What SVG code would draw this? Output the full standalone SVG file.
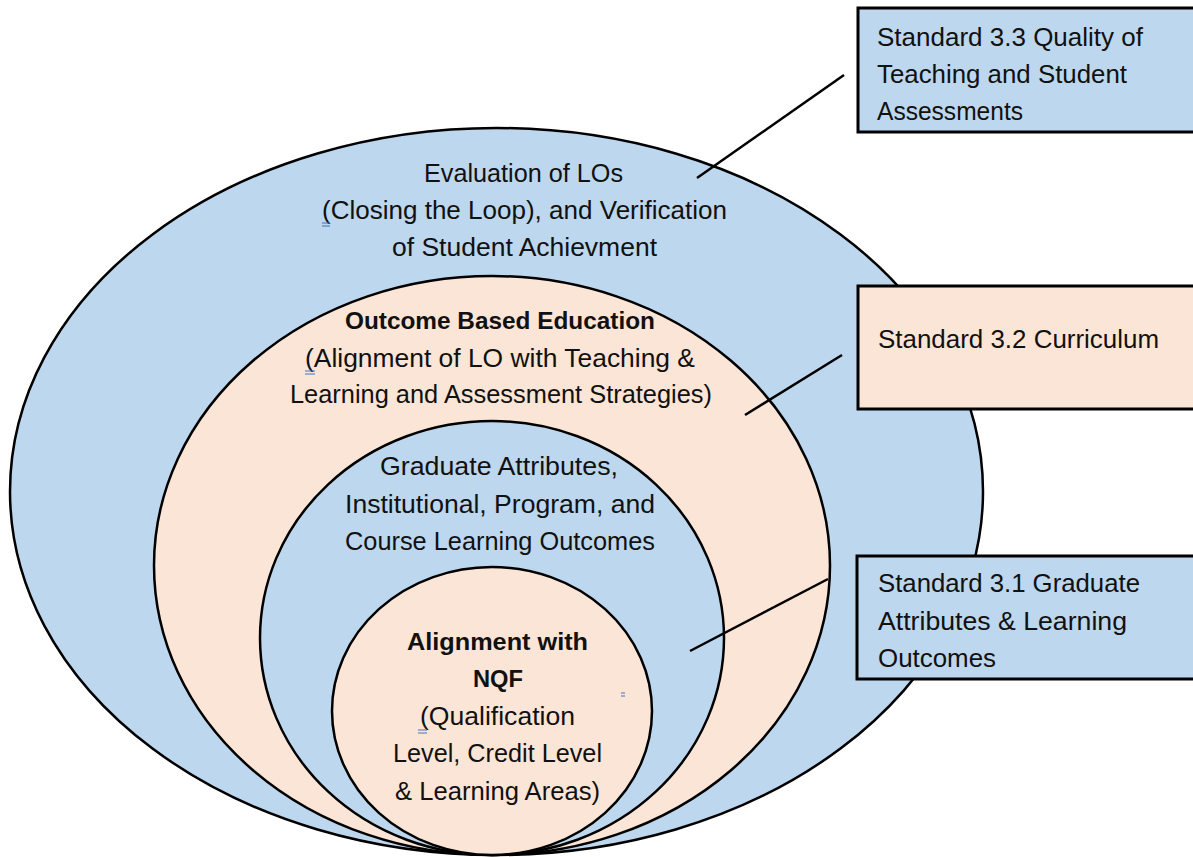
<svg xmlns="http://www.w3.org/2000/svg" width="1193" height="857" viewBox="0 0 1193 857">
<style>
.blue{fill:#BDD7EE;stroke:#000;stroke-width:2.5}
.peach{fill:#FBE5D6;stroke:#000;stroke-width:2.5}
.box{stroke:#000;stroke-width:3}
.conn{stroke:#000;stroke-width:2.5;fill:none}
text{font-family:"Liberation Sans",Arial,sans-serif;font-size:25px;fill:#111}
.c{text-anchor:middle}
.b{font-weight:bold;font-size:24.5px}
.mk{stroke:#4472C4;stroke-width:1}
</style>
<rect width="1193" height="857" fill="#fff"/>
<g id="outer">
<ellipse class="blue" cx="496.5" cy="491.5" rx="486.5" ry="363.5"/>
<text class="c" x="523.5" y="182" textLength="199" lengthAdjust="spacingAndGlyphs">Evaluation of LOs</text>
<text class="c" x="524.5" y="219" textLength="405" lengthAdjust="spacingAndGlyphs">(Closing the Loop), and Verification</text>
<text class="c" x="524.5" y="256" textLength="265" lengthAdjust="spacingAndGlyphs">of Student Achievment</text>
</g>
<g id="obe">
<ellipse class="peach" cx="492" cy="565.5" rx="338" ry="289.5"/>
<text class="c b" x="500" y="329" textLength="310" lengthAdjust="spacingAndGlyphs">Outcome Based Education</text>
<text class="c" x="500" y="367" textLength="390" lengthAdjust="spacingAndGlyphs">(Alignment of LO with Teaching &amp;</text>
<text class="c" x="501" y="403" textLength="422" lengthAdjust="spacingAndGlyphs">Learning and Assessment Strategies)</text>
</g>
<g id="ga">
<ellipse class="blue" cx="492" cy="638" rx="232" ry="217"/>
<text class="c" x="499" y="475" textLength="238" lengthAdjust="spacingAndGlyphs">Graduate Attributes,</text>
<text class="c" x="500" y="513" textLength="310" lengthAdjust="spacingAndGlyphs">Institutional, Program, and</text>
<text class="c" x="500" y="550" textLength="310" lengthAdjust="spacingAndGlyphs">Course Learning Outcomes</text>
</g>
<g id="nqf">
<ellipse class="peach" cx="492" cy="711" rx="160" ry="144"/>
<text class="c b" x="497.5" y="650" textLength="181" lengthAdjust="spacingAndGlyphs">Alignment with</text>
<text class="c b" x="498" y="687" textLength="50" lengthAdjust="spacingAndGlyphs">NQF</text>
<text class="c" x="497.5" y="725" textLength="155" lengthAdjust="spacingAndGlyphs">(Qualification</text>
<text class="c" x="497.5" y="762" textLength="209" lengthAdjust="spacingAndGlyphs">Level, Credit Level</text>
<text class="c" x="497.5" y="800" textLength="205" lengthAdjust="spacingAndGlyphs">&amp; Learning Areas)</text>
</g>
<g id="markers">
<path class="mk" d="M322 223h8M322 226h8M305 371h10M305 374h10M418 730h9M418 733h9M621 693h4M621 696h4"/>
</g>
<g id="connectors">
<line class="conn" x1="697" y1="178" x2="844" y2="75"/>
<line class="conn" x1="745" y1="415" x2="842" y2="355"/>
<line class="conn" x1="690" y1="651" x2="828" y2="579"/>
</g>
<g id="std33">
<rect class="box" x="858" y="8" width="345" height="124" fill="#BDD7EE"/>
<text x="877" y="46" textLength="266" lengthAdjust="spacingAndGlyphs">Standard 3.3 Quality of</text>
<text x="877" y="83" textLength="250" lengthAdjust="spacingAndGlyphs">Teaching and Student</text>
<text x="877" y="120" textLength="146" lengthAdjust="spacingAndGlyphs">Assessments</text>
</g>
<g id="std32">
<rect class="box" x="858" y="286" width="345" height="123" fill="#FBE5D6"/>
<text x="878" y="348" textLength="281" lengthAdjust="spacingAndGlyphs">Standard 3.2 Curriculum</text>
</g>
<g id="std31">
<rect class="box" x="857" y="556" width="346" height="123" fill="#BDD7EE"/>
<text x="878" y="592" textLength="262" lengthAdjust="spacingAndGlyphs">Standard 3.1 Graduate</text>
<text x="878" y="630" textLength="249" lengthAdjust="spacingAndGlyphs">Attributes &amp; Learning</text>
<text x="878" y="667" textLength="118" lengthAdjust="spacingAndGlyphs">Outcomes</text>
</g>
</svg>
